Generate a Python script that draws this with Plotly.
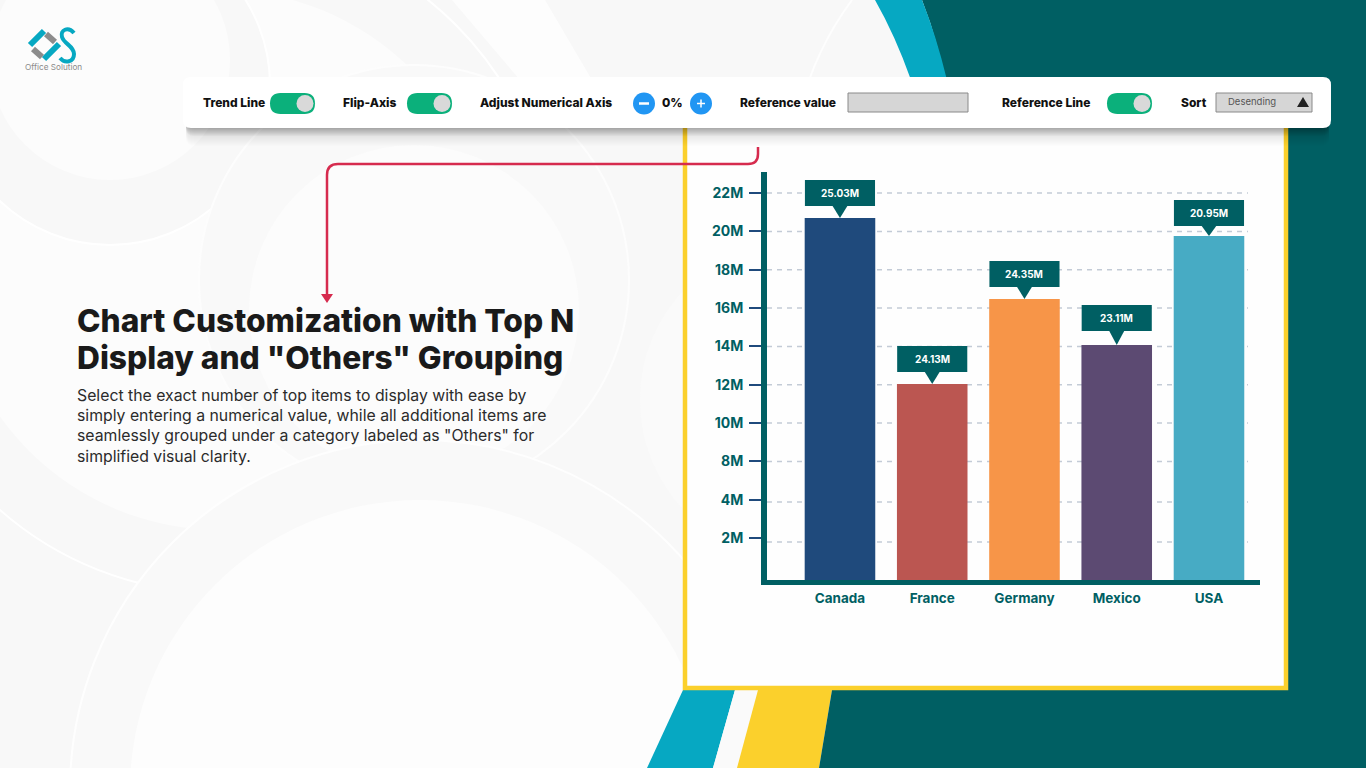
import plotly.graph_objects as go

# chart data
categories = ["Canada", "France", "Germany", "Mexico", "USA"]
bar_values = [20.7, 12.04, 16.47, 14.07, 19.76]
bar_labels = ["25.03M", "24.13M", "24.35M", "23.11M", "20.95M"]
bar_colors = ["#1F4A7C", "#BB5651", "#F79548", "#5C4A72", "#47ABC4"]
tick_positions = [4, 6, 8, 10, 12, 14, 16, 18, 20, 22]
tick_labels = ["2M", "4M", "8M", "10M", "12M", "14M", "16M", "18M", "20M", "22M"]
grid_positions = [3.79, 5.88, 8, 10, 12, 14, 16, 18, 20, 22]
callout_gaps = [12, 12, 12, 14, 10]

# toolbar texts: text, left edge
toolbar_labels = [
    ("Trend Line", 201),
    ("Flip-Axis", 341),
    ("Adjust Numerical Axis", 478),
    ("0%", 660),
    ("Reference value", 738),
    ("Reference Line", 1000),
    ("Sort", 1179),
]
toggle_lefts = [270, 407, 1107]

title_lines = ["Chart Customization with Top N", 'Display and "Others" Grouping']
body_lines = [
    "Select the exact number of top items to display with ease by",
    "simply entering a numerical value, while all additional items are",
    'seamlessly grouped under a category labeled as "Others" for',
    "simplified visual clarity.",
]

TEAL = "#005F63"
CYAN = "#06A8C2"
YELLOW = "#FBD02C"
GREEN = "#0BB07B"
RED = "#D62B4E"
BLUE = "#2196F3"
FONT = "Inter"
W, H = 1366, 768


def rounded(x0, y0, x1, y1, r):
    return (
        f"M {x0+r} {y0} L {x1-r} {y0} Q {x1} {y0} {x1} {y0+r} L {x1} {y1-r} "
        f"Q {x1} {y1} {x1-r} {y1} L {x0+r} {y1} Q {x0} {y1} {x0} {y1-r} "
        f"L {x0} {y0+r} Q {x0} {y0} {x0+r} {y0} Z"
    )


shapes = []


def bg_path(path, fill=None, line=None, width=0, opacity=1):
    shapes.append(dict(
        type="path", xref="x", yref="y", layer="below", path=path,
        fillcolor=fill or "rgba(0,0,0,0)", opacity=opacity,
        line=dict(color=line or "rgba(0,0,0,0)", width=width),
    ))


def bg_circle(cx, cy, r, fill=None, line=None, width=0):
    shapes.append(dict(
        type="circle", xref="x", yref="y", layer="below",
        x0=cx - r, x1=cx + r, y0=cy - r, y1=cy + r,
        fillcolor=fill or "rgba(0,0,0,0)",
        line=dict(color=line or "rgba(0,0,0,0)", width=width),
    ))


# soft rings on the left side of the page
bg_path("M 452 0 L 545 0 L 592 80 L 614 120 L 545 120 L 520 80 Z", fill="#FDFDFD")
bg_path("M 852 0 Q 815 50 800 110", line="#FEFEFE", width=2)
bg_path("M 299 0 Q 303 40 299 80", line="#FDFDFD", width=2)
bg_circle(220, 260, 333, fill="#F8F8F8", line="#FFFFFF", width=2)
bg_circle(220, 260, 270, fill="#FCFCFC")
bg_circle(110, 85, 160, fill="#F8F8F8", line="#FFFFFF", width=2)
bg_circle(110, 60, 120, fill="#FCFCFC")
bg_circle(414, 280, 215, fill="#F9F9F9", line="#FDFDFD", width=2)
bg_circle(414, 310, 165, fill="#FCFCFC")
bg_circle(800, 400, 160, fill="#FAFAFA")
bg_circle(420, 790, 350, fill="#F9F9F9", line="#FEFEFE", width=2)
bg_circle(420, 790, 290, fill="#FDFDFD")

# swooshes around the panel
bg_path("M 647 768 L 683 690 L 735 690 L 713 768 Z", fill=CYAN)
bg_path("M 735 690 L 758 690 L 737 768 L 713 768 Z", fill="#FAFAFA")
bg_path("M 758 690 L 832 690 L 819 768 L 737 768 Z", fill=YELLOW)
bg_path("M 922 0 Q 940 45 948 100 L 948 400 L 832 690 L 819 768 L 1366 768 L 1366 0 Z", fill=TEAL)
bg_path("M 875 0 L 922 0 Q 936 35 947 80 L 911 80 Q 895 35 875 0 Z", fill=CYAN)

# white panel with yellow frame
shapes.append(dict(type="rect", xref="x", yref="y", layer="below", x0=685, x1=1286, y0=100, y1=688,
                   fillcolor="#FEFEFE", line=dict(color=YELLOW, width=4.5)))

# connector from the toolbar to the heading
bg_path("M 758 147 L 758 154 Q 758 164 748 164 L 338 164 Q 327 164 327 175 L 327 296",
        line=RED, width=2.5)
bg_path("M 321 294 L 333 294 L 327 303 Z", fill=RED)

# toolbar card with its shadow
for offset in range(18, 0, -1):
    bg_path(rounded(186, 77 + offset, 1329, 128 + offset, 8), fill="#000000",
            opacity=0.006 if offset > 8 else 0.035)
bg_path(rounded(183, 77, 1331, 128, 8), fill="#FFFFFF")

for left in toggle_lefts:
    bg_path(rounded(left, 93, left + 45, 114, 10.5), fill=GREEN)
    bg_circle(left + 35, 103.5, 8.5, fill="#D9D9D9")

for cx in [644, 701]:
    bg_circle(cx, 103.5, 11, fill=BLUE)
bg_path("M 639 103.5 L 649 103.5", line="#FFFFFF", width=2.5)
bg_path("M 697 103.5 L 705 103.5 M 701 99.5 L 701 107.5", line="#FFFFFF", width=1.5)

for x0, x1 in [(848, 968), (1216, 1312)]:
    shapes.append(dict(type="rect", xref="x", yref="y", layer="below", x0=x0, x1=x1, y0=93, y1=112,
                       fillcolor="#D6D6D6", line=dict(color="#8A8A8A", width=1)))
bg_path("M 1297 107 L 1309 107 L 1303 97 Z", fill="#222222")

# logo
bg_path("M 30 45 L 44 31", line=CYAN, width=6)
bg_path("M 44 59 L 59 44", line=CYAN, width=6)
bg_path("M 46 34 L 55 42", line="#8C8C8C", width=6)
bg_path("M 33 49 L 42 57", line="#8C8C8C", width=6)
bg_path("M 74 33 C 68 26 60 30 62 37 C 64 44 74 46 74 54 C 74 62 65 64 60 58", line=CYAN, width=4)

# gridlines, behind the bars
for pos in grid_positions:
    shapes.append(dict(
        type="line", xref="x2", yref="y2", layer="below",
        x0=-0.791, x1=4.423, y0=pos, y1=pos,
        line=dict(color="#C3CBD6", width=1.5, dash="5px,5px"),
    ))

# callout above each bar, tied to the bar's value
for i, (value, gap) in enumerate(zip(bar_values, callout_gaps)):
    shapes.append(dict(
        type="rect", xref="x2", yref="y2", layer="above",
        x0=i - 0.38, x1=i + 0.38, yanchor=value, ysizemode="pixel", y0=gap, y1=gap + 26,
        fillcolor=TEAL, line=dict(width=0),
    ))
    shapes.append(dict(
        type="path", xref="x2", yref="y2", layer="above",
        xanchor=i, xsizemode="pixel", yanchor=value, ysizemode="pixel",
        path=f"M -8 {gap + 1} L 8 {gap + 1} L 0 0 Z", fillcolor=TEAL, line=dict(width=0),
    ))

annotations = []


def text(x, y, s, size, color, weight=400, anchor="left"):
    annotations.append(dict(
        xref="x", yref="y", x=x, y=y, text=s, showarrow=False, xanchor=anchor, yanchor="middle",
        font=dict(family=FONT, size=size, color=color, weight=weight),
    ))


for label, left in toolbar_labels:
    text(left, 102.5, label, 12, "#111111", 800)
text(1226, 101, "Desending", 9.5, "#555555")
text(53, 67, "Office Solution", 8.2, "#8A8A8A", anchor="center")

for line, y in zip(title_lines, [320, 357.5]):
    text(75, y, line, 31.7, "#1A1A1A", 800)
for line, y in zip(body_lines, [395, 415, 435, 456]):
    text(75, y, line, 15.8, "#2B2B2B")

for i, (value, label, gap) in enumerate(zip(bar_values, bar_labels, callout_gaps)):
    annotations.append(dict(
        xref="x2", yref="y2", x=i, y=value, yshift=gap + 13, text=label, showarrow=False,
        font=dict(family=FONT, size=10, color="#FFFFFF", weight=700),
    ))

fig = go.Figure()
fig.add_trace(go.Bar(
    x=categories, y=bar_values, marker=dict(color=bar_colors, line=dict(width=0)),
    width=0.765, xaxis="x2", yaxis="y2", hoverinfo="skip",
))

fig.update_layout(
    width=W,
    height=H,
    margin=dict(l=0, r=0, t=0, b=0),
    paper_bgcolor="#F8F8F8",
    plot_bgcolor="rgba(0,0,0,0)",
    showlegend=False,
    shapes=shapes,
    annotations=annotations,
    # page-sized axes used to place the decoration
    xaxis=dict(domain=[0, 1], range=[0, W], visible=False, fixedrange=True),
    yaxis=dict(domain=[0, 1], range=[H, 0], visible=False, fixedrange=True),
    # chart axes
    xaxis2=dict(
        domain=[767 / W, 1260 / W], range=[-0.791, 4.553], anchor="y2", type="category",
        categoryorder="array", categoryarray=categories,
        showgrid=False, zeroline=False, showline=True, linecolor=TEAL, linewidth=5,
        ticks="", ticklabelstandoff=2,
        tickfont=dict(family=FONT, size=13.5, color=TEAL, weight=700),
    ),
    yaxis2=dict(
        domain=[1 - 580 / H, 1 - 172 / H], range=[1.81, 23.1], anchor="x2",
        showgrid=False, zeroline=False, showline=True, linecolor=TEAL, linewidth=6,
        tickmode="array", tickvals=tick_positions, ticktext=tick_labels,
        ticks="outside", ticklen=12, tickwidth=2, tickcolor="#1F4A7C", ticklabelstandoff=3,
        tickfont=dict(family=FONT, size=14, color=TEAL, weight=700),
    ),
)

fig.write_html(
    "out.html",
    config={"displayModeBar": False},
    post_script="document.body.style.margin='0';document.body.style.overflow='hidden';",
)
